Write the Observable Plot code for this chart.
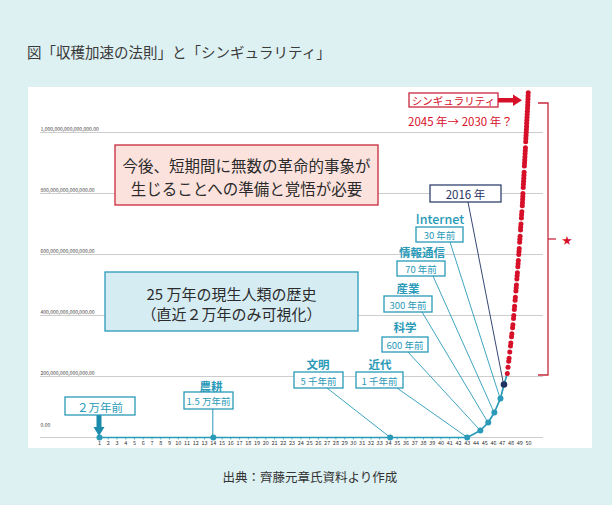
<!DOCTYPE html>
<html><head><meta charset="utf-8">
<script src="https://cdn.jsdelivr.net/npm/d3@7"></script>
<script src="https://cdn.jsdelivr.net/npm/@observablehq/plot@0.6"></script>
<style>
body{margin:0;background:#ddf0f2;width:612px;height:505px;position:relative;overflow:hidden;font-family:"Noto Sans CJK JP","Noto Sans",sans-serif}
#title{position:absolute;left:27px;top:45px;font-size:14.5px;line-height:1;color:#3a3a3a;white-space:nowrap}
#chart{position:absolute;left:28px;top:87px}
#caption{position:absolute;left:0;width:620px;top:471px;text-align:center;font-size:12.5px;line-height:1;color:#333}
svg text{font-family:"Noto Sans CJK JP","Noto Sans",sans-serif}
</style></head><body>
<div id="title">図「収穫加速の法則」と「シンギュラリティ」</div>
<div id="chart"></div>
<div id="caption">出典：齊藤元章氏資料より作成</div>
<script>
const FONT = '"Noto Sans CJK JP","Noto Sans",sans-serif';
// ---- data ----
const yTicks = [0, 0.2, 0.4, 0.6, 0.8, 1.0]; // x 1e15
const xTicks = [1,2,3,4,5,6,7,8,9,10,11,12,13,14,15,16,17,18,19,20,21,22,23,24,25,26,27,28,29,30,31,32,33,34,35,36,37,38,39,40,41,42,43,44,45,46,47,48,49,50];
const baseX = [1,2,3,4,5,6,7,8,9,10,11,12,13,14,15,16,17,18,19,20,21,22,23,24,25,26,27,28,29,30,31,32,33,34,35,36,37,38,39,40,41,42,43];
const eventLabels = ["", "農耕", "文明", "近代", "科学", "産業", "情報通信", "Internet"];
const eventAgo = ["２万年前", "1.5 万年前", "5 千年前", "1 千年前", "600 年前", "300 年前", "70 年前", "30 年前"];
const eventX = [1, 14, 34.2, 43, 44.5, 45.4, 46.1, 46.8];
const eventY = [0, 0, 0, 0, 0.023, 0.049, 0.082, 0.128];
const nowLabel = "2016 年";
const nowX = 47.2, nowY = 0.174;
const futureY = [0.21,0.23,0.25,0.26,0.28,0.30,0.31,0.33,0.34,0.36,0.37,0.39,0.40,0.42,0.43,0.45,0.46,0.48,0.49,0.50,0.52,0.53,0.54,0.56,0.57,0.58,0.60,0.61,0.62,0.64,0.65,0.66,0.68,0.69,0.70,0.72,0.73,0.74,0.76,0.77,0.78,0.79,0.80,0.82,0.83,0.84,0.85,0.86,0.87,0.89,0.90,0.91,0.92,0.93,0.94,0.95,0.97,0.98,0.99,1.00,1.01,1.02,1.03,1.04,1.05,1.06,1.07,1.08,1.09,1.10,1.11,1.12,1.13];
const futureX = [47.58,47.66,47.74,47.78,47.86,47.94,47.98,48.06,48.10,48.18,48.22,48.29,48.32,48.38,48.41,48.47,48.50,48.56,48.59,48.62,48.67,48.70,48.73,48.78,48.81,48.84,48.89,48.91,48.94,48.99,49.01,49.04,49.09,49.11,49.14,49.19,49.21,49.24,49.29,49.31,49.33,49.35,49.36,49.40,49.42,49.44,49.46,49.48,49.50,49.53,49.55,49.57,49.59,49.61,49.63,49.65,49.68,49.70,49.72,49.74,49.76,49.78,49.79,49.81,49.83,49.85,49.87,49.89,49.91,49.92,49.94,49.95,49.97];
const singLabel = "シンギュラリティ";
const singSub = "2045 年→ 2030 年？";
const noteRed = ["今後、短期間に無数の革命的事象が", "生じることへの準備と覚悟が必要"];
const noteBlue = ["25 万年の現生人類の歴史", "（直近２万年のみ可視化）"];

// ---- styles / layout (svg px) ----
const TEAL = "#2a9ab8", NAVY = "#1f3262", RED = "#d7102a", DRED = "#c9283d";
const calloutLayout = [
  {box:[37,310,107,328]},
  {box:[156,305,205,322], label:[183,299]},
  {box:[266,285,315,301], label:[290,277], from:[299,301]},
  {box:[328,285,375,301], label:[352,277], from:[369,301]},
  {box:[354,250,400,265], label:[377,240], from:[380,265]},
  {box:[356,209,404,225], label:[380,201], from:[394,225]},
  {box:[369,174,417,189], label:[394,165], from:[405,189]},
  {box:[388,140,435,155], label:[412,131], from:[422,155]}
];

const events = eventX.map((x,i)=>({x, y:eventY[i]}));
const future = futureX.map((x,i)=>({x, y:futureY[i]}));
const lineData = [...baseX.map(x=>({x, y:0})), ...events.filter(d=>d.x>43), {x:nowX,y:nowY}, future[0]];
const fmt = d => d3.format(",.2f")(d*1e15);

const chart = Plot.plot({
  width: 564, height: 361,
  marginLeft: 12, marginRight: 49, marginTop: 0, marginBottom: 0,
  style: {background: "#fff", overflow: "visible", fontFamily: FONT},
  x: {domain: [1,50], range: [71,500], axis: null},
  y: {domain: [0,1], range: [350,45], axis: null},
  marks: [
    Plot.gridY(yTicks, {stroke: "#cdcdcd", strokeOpacity: 1, strokeWidth: 1}),
    Plot.text(yTicks.filter(d=>d>0), {y: d=>d, frameAnchor: "left", text: fmt, textAnchor: "start", lineAnchor: "bottom", dy: -2, fontSize: 5, fill: "#444"}),
    Plot.text(yTicks.filter(d=>d===0), {y: d=>d, frameAnchor: "left", text: fmt, textAnchor: "start", lineAnchor: "bottom", dy: -11, fontSize: 5, fill: "#444"}),
    Plot.text(xTicks, {x: d=>d, y: 0, dy: 6, text: d=>String(d), fontSize: 5.5, fill: "#333"}),
    Plot.ruleX(baseX, {x: d=>d, y1: 0, y2: -0.008, stroke: TEAL, strokeWidth: 0.8}),
    Plot.line(lineData, {x: "x", y: "y", stroke: TEAL, strokeWidth: 1.7}),
    Plot.dot(events, {x: "x", y: "y", r: 3, fill: TEAL}),
    Plot.dot([{x:nowX, y:nowY}], {x: "x", y: "y", r: 3.3, fill: NAVY}),
    Plot.dot(future, {x: "x", y: "y", r: 2.5, fill: RED})
  ]
});
document.getElementById("chart").append(chart);

const sx = chart.scale("x"), sy = chart.scale("y");
const svg = d3.select(chart);
const g = svg.append("g").attr("font-family", FONT);

function box(b, stroke, fill, sw){
  g.append("rect").attr("x", b[0]).attr("y", b[1]).attr("width", b[2]-b[0]).attr("height", b[3]-b[1])
    .attr("fill", fill).attr("stroke", stroke).attr("stroke-width", sw||1.2);
}
function text(x, y, s, size, color, weight, anchor){
  return g.append("text").attr("x", x).attr("y", y).attr("dominant-baseline", "central")
    .attr("text-anchor", anchor||"middle").attr("font-size", size).attr("fill", color)
    .style("font-family", FONT)
    .attr("font-weight", weight||400).text(s);
}
function line(x1,y1,x2,y2,color,w){
  g.append("line").attr("x1",x1).attr("y1",y1).attr("x2",x2).attr("y2",y2).attr("stroke",color).attr("stroke-width",w||0.9);
}

// callouts
calloutLayout.forEach((c,i)=>{
  const px = sx.apply(eventX[i]), py = sy.apply(eventY[i]);
  const b = c.box;
  if (i === 0) {
    g.append("rect").attr("x", px-2.5).attr("y", b[3]).attr("width", 5).attr("height", 13).attr("fill", "#1c8cad");
    g.append("path").attr("d", `M${px-5.5},${b[3]+12} L${px+5.5},${b[3]+12} L${px},${py-1} Z`).attr("fill", "#1c8cad");
  } else if (i === 1) {
    line(px, b[3], px, py, TEAL, 1);
  } else {
    line(c.from[0], c.from[1], px, py, TEAL, 0.9);
  }
  box(b, TEAL, "#fff", 1.3);
  text((b[0]+b[2])/2, (b[1]+b[3])/2+0.5, eventAgo[i], i===0 ? 11.5 : 9.5, TEAL);
  if (c.label) text(c.label[0], c.label[1], eventLabels[i], i===7 ? 12.5 : 11.5, TEAL, i===7 ? 500 : 700);
});

// 2016
{
  const px = sx.apply(nowX), py = sy.apply(nowY);
  line(440, 115, px, py, NAVY, 0.9);
  box([402,98,473,115], NAVY, "#fff", 1.2);
  text(437.5, 107, nowLabel, 11.5, NAVY);
}

// notes
box([87,58,350,118], DRED, "#fce2dd", 1.3);
text(218.5, 78, noteRed[0], 15.5, "#2b2b2b");
text(218.5, 101, noteRed[1], 15.5, "#2b2b2b");
box([77,185,330,244], TEAL, "#d6ecf3", 1.3);
text(203.5, 206, noteBlue[0], 15, "#2b2b2b");
text(203.5, 226, noteBlue[1], 15, "#2b2b2b");

// singularity
box([381,6,470,20], DRED, "#fff", 1.3);
text(425.5, 13.5, singLabel, 10.5, RED);
g.append("rect").attr("x", 470).attr("y", 11).attr("width", 16).attr("height", 4.5).attr("fill", RED);
g.append("path").attr("d", "M485,7.5 L494,13.2 L485,19 Z").attr("fill", RED);
text(380, 34, singSub, 11.5, RED, 400, "start");

// bracket
g.append("path").attr("d", "M510,16 H520 V288 H510").attr("fill", "none").attr("stroke", DRED).attr("stroke-width", 1.3);
line(520, 152, 528, 152, DRED, 1.3);
text(539, 152.5, "★", 10, RED);

svg.selectAll('g[aria-label="dot"]').raise();
</script>
</body></html>
